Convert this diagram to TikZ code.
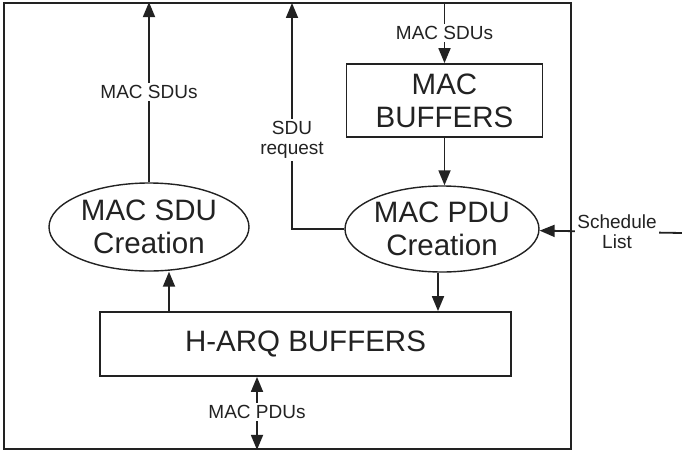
\documentclass[tikz,border=0pt]{standalone}
\usepackage{fontspec}
\setmainfont{Liberation Sans}
\usetikzlibrary{shapes.geometric,arrows.meta,calc}
\definecolor{ink}{HTML}{222222}
\begin{document}
\begin{tikzpicture}[x=1pt,y=-1pt,
  line/.style={draw=ink,line width=1.8pt},
  arr/.style={line,-{Triangle[length=15pt,width=12pt]}},
  darr/.style={line,{Triangle[length=15pt,width=12pt]}-{Triangle[length=15pt,width=12pt]}},
  bigtext/.style={font=\fontsize{29.5}{33}\selectfont,text=ink,align=center},
  lbl/.style={font=\fontsize{19}{20}\selectfont,text=ink,align=center,fill=white,inner sep=2pt},
  boxnode/.style={draw=ink,line width=1.8pt,rectangle,inner sep=0pt,bigtext},
  ellnode/.style={draw=ink,line width=1.4pt,ellipse,inner sep=0pt,bigtext}]
\useasboundingbox (0,0) rectangle (682,452);
\node[draw=ink,line width=1.8pt,rectangle,inner sep=0pt,minimum width=567pt,minimum height=446pt] (outer) at (287.5,226) {};
\node[boxnode,minimum width=196pt,minimum height=73pt] (macbuf) at (444.5,100.5) {MAC\\BUFFERS};
\node[ellnode,minimum width=194pt,minimum height=86pt] (pdu) at (442,229) {MAC PDU\\Creation};
\node[ellnode,minimum width=200pt,minimum height=88pt] (sdu) at (149,227) {MAC SDU\\Creation};
\node[boxnode,minimum width=411pt,minimum height=64pt] (harq) at (305.5,344) {H-ARQ BUFFERS};
% left MAC SDUs up
\draw[arr] (sdu.north) -- (sdu.north |- outer.north) node[lbl,pos=0.5] (l1) {MAC SDUs};
% SDU request
\coordinate (srtop) at (292,3);
\draw[arr] (pdu.west) -| (srtop);
\node[lbl] (l2) at (292,140) {SDU\\request};
% top MAC SDUs into buffers
\coordinate (bt) at (444.5,3);
\draw[arr] (bt) -- (macbuf.north);
\node[lbl] (l3) at (444.5,33) {MAC SDUs};
% buffers to PDU creation
\draw[arr] (macbuf.south) -- (macbuf.south |- pdu.north);
% PDU creation to HARQ
\draw[arr] ([xshift=-4pt]pdu.south) -- ([xshift=-4pt]pdu.south |- harq.north);
% HARQ to SDU creation
\draw[arr] ([xshift=20pt]sdu.south |- harq.north) -- ([xshift=20pt]sdu.south);
% bottom MAC PDUs
\coordinate (bx) at (257,0);
\draw[darr] (harq.south -| bx) -- (outer.south -| bx);
\node[lbl] (l4) at (257,412) {MAC PDUs};
% schedule list
\coordinate (sl) at (682,233);
\draw[arr] (sl) -- (pdu);
\node[lbl] (l5) at (617,232) {Schedule\\List};
\end{tikzpicture}
\end{document}
